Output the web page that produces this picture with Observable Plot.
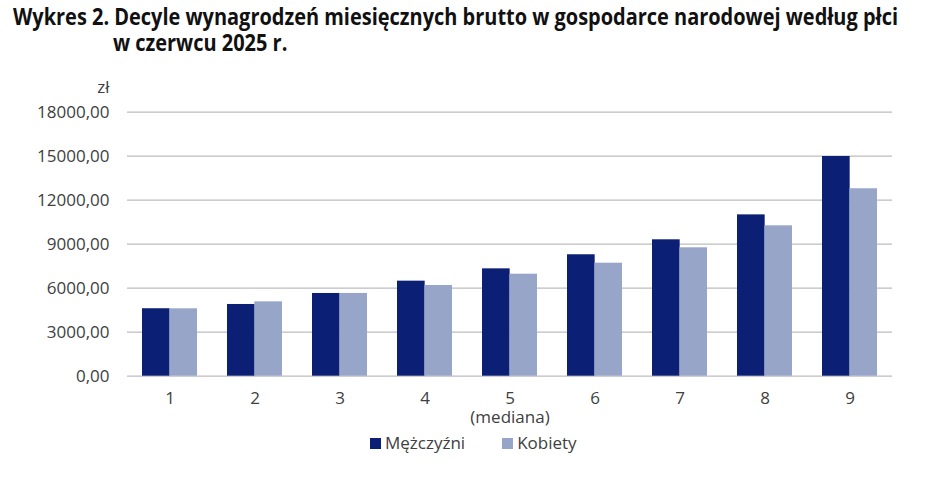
<!DOCTYPE html>
<html>
<head>
<meta charset="utf-8">
<script src="https://cdn.jsdelivr.net/npm/d3@7"></script>
<script src="https://cdn.jsdelivr.net/npm/@observablehq/plot@0.6"></script>
<style>
  body { margin: 0; background: #fff; font-family: "Open Sans", "Noto Sans", sans-serif; position: relative; width: 926px; height: 478px; overflow: hidden; }
  .tline { position: absolute; font-family: "Open Sans", sans-serif; font-weight: bold; font-size: 23px; line-height: 24px; color: #111; white-space: nowrap; transform-origin: 0 0; }
  #t1 { left: 13px; top: 4px; }
  #t2 { left: 113px; top: 30px; }
  #chart { position: absolute; left: 0; top: 60px; }
  #legend { position: absolute; left: 370px; top: 433px; display: flex; gap: 37px; font-size: 17px; color: #404040; line-height: 20px; white-space: nowrap; }
  #legend span.sw { display: inline-block; width: 11px; height: 11px; margin-right: 4px; vertical-align: 0px; }
</style>
</head>
<body>
<div class="tline" id="t1">Wykres 2. Decyle wynagrodzeń miesięcznych brutto w gospodarce narodowej według płci</div>
<div class="tline" id="t2">w czerwcu 2025 r.</div>
<div id="chart"></div>
<div id="legend"></div>
<script>
const deciles = ["1", "2", "3", "4", "5", "6", "7", "8", "9"];
const decileLabels = ["1", "2", "3", "4", "5\n(mediana)", "6", "7", "8", "9"];
const men = [4600, 4890, 5640, 6480, 7320, 8280, 9300, 11000, 14980];
const women = [4595, 5070, 5640, 6185, 6955, 7705, 8755, 10255, 12780];
const series = ["Mężczyźni", "Kobiety"];
const colors = ["#0b1f74", "#97a5c9"];
const yTicks = [0, 3000, 6000, 9000, 12000, 15000, 18000];
const unit = "zł";

const rowsMen = deciles.map((d, i) => ({decile: d, value: men[i], series: series[0]}));
const rowsWomen = deciles.map((d, i) => ({decile: d, value: women[i], series: series[1]}));

// condense title lines so line 1 spans the reference width
const t1 = document.getElementById("t1"), t2 = document.getElementById("t2");
const k = 885 / t1.getBoundingClientRect().width;
t1.style.transform = `scaleX(${k})`;
t2.style.transform = `scaleX(${k})`;

const W = 926, mL = 127, mR = 34;
const padInner = 0.357, padOuter = padInner / 2;
const step = (W - mL - mR) / (deciles.length - padInner + 2 * padOuter);
const half = step * (1 - padInner) / 2;

const chart = Plot.plot({
  width: W,
  height: 370,
  marginLeft: mL,
  marginRight: mR,
  marginTop: 51.7,
  marginBottom: 54.3,
  style: {fontFamily: "'Open Sans', 'Noto Sans', sans-serif", fontSize: "17px", color: "#404040", background: "#fff"},
  x: {domain: deciles, paddingInner: padInner, paddingOuter: padOuter, label: null},
  y: {domain: [0, 18000], label: null},
  color: {domain: series, range: colors},
  marks: [
    Plot.ruleY(yTicks, {stroke: "#bdbdbd", strokeWidth: 1.2}),
    Plot.barY(rowsMen, {x: "decile", y: "value", fill: "series", insetRight: half}),
    Plot.barY(rowsWomen, {x: "decile", y: "value", fill: "series", insetLeft: half}),
    Plot.axisY({ticks: yTicks, tickSize: 0, tickPadding: 18, label: null, fontSize: 17,
      tickFormat: d => d.toFixed(2).replace(".", ",")}),
    Plot.axisX({tickSize: 0, tickPadding: 15, label: null, fontSize: 17, lineHeight: 1.08, lineAnchor: "top",
      tickFormat: d => decileLabels[deciles.indexOf(d)]}),
    Plot.text([unit], {frameAnchor: "top-left", dx: -18, dy: -19, textAnchor: "end", lineAnchor: "bottom", fill: "#404040", fontSize: 17})
  ]
});
document.getElementById("chart").appendChild(chart);

const legend = document.getElementById("legend");
series.forEach((s, i) => {
  const item = document.createElement("div");
  item.innerHTML = `<span class="sw" style="background:${colors[i]}"></span>${s}`;
  legend.appendChild(item);
});
</script>
</body>
</html>
